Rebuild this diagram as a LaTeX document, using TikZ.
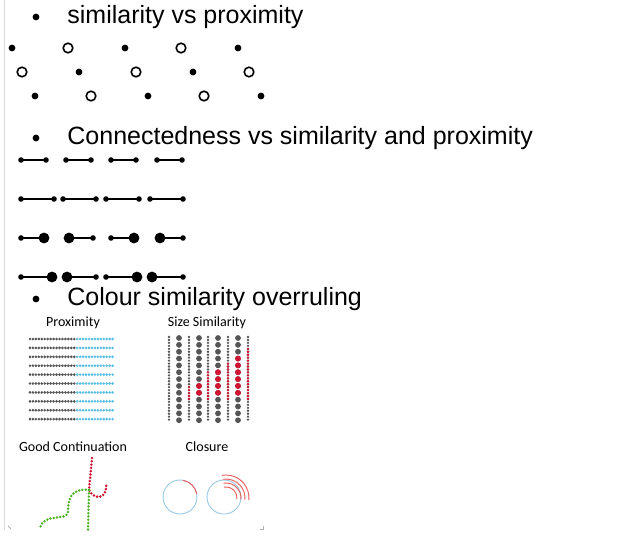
\documentclass[tikz,border=0pt]{standalone}
\usepackage{fontspec}
\setmainfont{Liberation Sans}
\newfontfamily\labelfont{Carlito}
\usepackage{tikz}
\usepackage{xcolor}
\usetikzlibrary{positioning,calc}
\definecolor{dotgray}{RGB}{85,85,85}
\definecolor{dotblue}{RGB}{90,190,225}
\definecolor{dotred}{RGB}{210,20,50}
\definecolor{dotgreen}{RGB}{80,180,40}
\definecolor{ringblue}{RGB}{150,200,230}
\definecolor{ringred}{RGB}{235,90,90}
\tikzset{every scope/.style={thick}}
\tikzstyle{bullet_item} =
  [ anchor=west
  , inner sep=0pt
  , font=\fontsize{25}{28}\selectfont
  ]
\tikzstyle{panel_label} =
  [ inner sep=0pt
  , font=\labelfont\fontsize{14}{16}\selectfont
  ]
\tikzstyle{ring} = [draw=black, line width=1.6pt, fill=white]
\tikzstyle{dotted_path} =
  [ line width=2.8pt
  , dash pattern=on 0pt off 3.3pt
  , line cap=round
  ]
\def\SimProx{similarity vs proximity}
\def\ConnSimProx{Connectedness vs similarity and proximity}
\def\ColourOver{Colour similarity overruling}

\begin{document}
\begin{tikzpicture}[x=1pt,y=-1pt]
    \useasboundingbox (0,0) rectangle (634,546);
    \draw[gray!30, line width=0.6pt] (4,0) -- (4,530);

    % headings
    \node[bullet_item] (b1) at (67,17)  {\SimProx};
    \node[bullet_item] (b2) at (67,138) {\ConnSimProx};
    \node[bullet_item] (b3) at (67,299) {\ColourOver};
    \foreach \y/\n in {17/1,138/2,299/3}
      \fill (36,\y) circle (3.4) coordinate (m\n);

    % similarity vs proximity
    \foreach \x/\y/\k in {12/48/0,68/48/1,125/48/0,181/48/1,238/48/0,
                          22/72/1,79/72/0,136/72/1,193/72/0,249/72/1,
                          35/96/0,91/96/1,148/96/0,204/96/1,261/96/0}{
      \ifnum\k=0 \fill (\x,\y) circle (3.4);
      \else \draw[ring] (\x,\y) circle (4.8); \fi
    }

    % connectedness
    \foreach \y/\a/\b/\ra/\rb in {
        160/21/46/2.8/2.8, 160/66/91/2.8/2.8, 160/111/136/2.8/2.8, 160/157/182/2.8/2.8,
        199/21/54/2.8/2.8, 199/63/96/2.8/2.8, 199/106/139/2.8/2.8, 199/150/183/2.8/2.8,
        238/21/44/2.8/5.4, 238/69/93/5.4/2.8, 238/111/134/2.8/5.4, 238/160/183/5.4/2.8,
        277/21/52/2.8/5.4, 277/67/96/5.4/2.8, 277/106/137/2.8/5.4, 277/152/183/5.4/2.8}{
      \draw[line width=1.3pt] (\a,\y) -- (\b,\y);
      \fill (\a,\y) circle (\ra);
      \fill (\b,\y) circle (\rb);
    }

    % panel labels
    \node[panel_label] (prox)  at (73,323)  {Proximity};
    \node[panel_label] (size)  at (207,323) {Size Similarity};
    \node[panel_label] (cont)  at (73,447)  {Good Continuation};
    \node[panel_label] (close) at (207,447) {Closure};

    % proximity grid
    \foreach \r in {0,...,9}
      \foreach \c in {0,...,28}{
        \ifnum\c<16 \fill[dotgray] (30+\c*2.95,339+\r*8.9) circle (1.45);
        \else \fill[dotblue] (30+\c*2.95,339+\r*8.9) circle (1.45); \fi
      }

    % size similarity
    \foreach \x in {169,189,208,228,248}
      \foreach \r in {0,...,28}
        \fill[dotgray] (\x,337+\r*2.95) circle (1.3);
    \foreach \x in {179,199,218,238}
      \foreach \r in {0,...,12}
        \fill[dotgray] (\x,338+\r*6.85) circle (2.9);
    \foreach \x/\t in {189/386,208/371,228/361,248/348}
      \foreach \r in {0,...,28}{
        \pgfmathsetmacro\yy{337+\r*2.95}
        \ifdim\yy pt>\t pt \ifdim\yy pt<399pt \fill[dotred] (\x,\yy) circle (1.3); \fi\fi
      }
    \foreach \x/\t in {179/393,199/380,218/366,238/352}
      \foreach \r in {0,...,12}{
        \pgfmathsetmacro\yy{338+\r*6.85}
        \ifdim\yy pt>\t pt \ifdim\yy pt<398pt \fill[dotred] (\x,\yy) circle (2.9); \fi\fi
      }

    % good continuation
    \coordinate (cross) at (89,490);
    \draw[dotred, dotted_path]
      (92,458) -- (cross) .. controls (94,500) and (108,500) .. (106,483);
    \draw[dotgreen, dotted_path] (cross) -- (88,530);
    \draw[dotgreen, dotted_path]
      (cross) .. controls (70,488) and (68,500) .. (68,512)
              .. controls (66,522) and (44,512) .. (40,528);

    % closure
    \coordinate (c1) at (180,497);
    \coordinate (c2) at (224,497);
    \coordinate (c3) at (226,498);
    \draw[ringblue, line width=0.9pt] (c1) circle (17);
    \draw[ringblue, line width=0.9pt] (c2) circle (17);
    \draw[ringred, line width=0.9pt] ([shift={(-80:17)}]c1) arc[start angle=-80, end angle=-10, radius=17];
    \foreach \r in {11,15,19,23}
      \draw[ringred, line width=0.9pt] ([shift={(-100:\r)}]c3) arc[start angle=-100, end angle=5, radius=\r];

    % corner marks
    \draw[gray!60, line width=0.8pt] (8,526) -- (11,529);
    \draw[gray!60, line width=0.8pt] (263,526) -- (263,529) -- (260,529);
\end{tikzpicture}
\end{document}
